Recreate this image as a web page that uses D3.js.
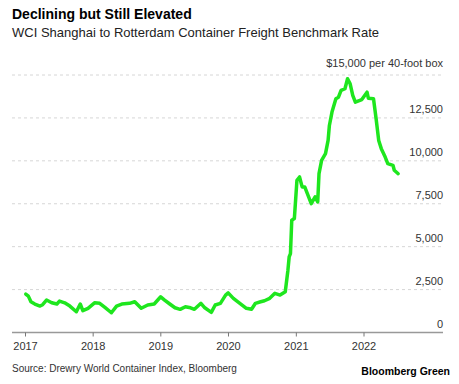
<!DOCTYPE html>
<html>
<head>
<meta charset="utf-8">
<script src="https://cdn.jsdelivr.net/npm/d3@7"></script>
<style>
  body { margin: 0; background: #fff; }
  text { font-family: "Liberation Sans", Arial, sans-serif; }
</style>
</head>
<body>
<div class="chart"></div>
<script>
var width = 459, height = 384;

// weekly WCI readings (sampled), USD per 40-foot box
var dates = [
  '2017-01-05','2017-01-19','2017-02-02','2017-02-23','2017-03-23','2017-04-06','2017-04-27','2017-05-25',
  '2017-06-22','2017-07-06','2017-08-03','2017-08-31','2017-10-05','2017-10-26','2017-11-09','2017-12-07',
  '2018-01-11','2018-02-08','2018-03-08','2018-04-12','2018-05-10','2018-06-07','2018-07-19','2018-08-16',
  '2018-09-20','2018-10-25','2018-11-29','2019-01-03','2019-01-24','2019-02-21','2019-03-21','2019-04-18',
  '2019-05-16','2019-06-13','2019-07-04','2019-08-08','2019-08-29','2019-10-03','2019-10-24','2019-11-21',
  '2019-12-19','2020-01-02','2020-01-30','2020-03-05','2020-04-09','2020-05-07','2020-05-28','2020-06-25',
  '2020-07-16','2020-08-13','2020-09-10','2020-10-08','2020-11-05','2020-11-19','2020-11-26','2020-12-03',
  '2020-12-10','2020-12-24','2021-01-07','2021-01-21','2021-02-04','2021-02-18','2021-03-11','2021-03-25',
  '2021-04-15','2021-04-29','2021-05-06','2021-05-20','2021-06-10','2021-06-24','2021-07-01','2021-07-15',
  '2021-08-05','2021-08-19','2021-09-02','2021-09-23','2021-10-07','2021-10-21','2021-11-04','2021-11-18',
  '2021-12-23','2022-01-20','2022-01-27','2022-02-24','2022-03-10','2022-03-24','2022-04-07','2022-04-28',
  '2022-05-12','2022-06-09','2022-06-16','2022-07-07'
];
var rates = [
  2240, 2120, 1790, 1660, 1540, 1620, 1890, 1730,
  1660, 1830, 1730, 1540, 1210, 1660, 1270, 1410,
  1730, 1700, 1465, 1150, 1540, 1660, 1700, 1790,
  1410, 1600, 1660, 2080, 1890, 1660, 1440, 1350,
  1500, 1440, 1350, 1700, 1440, 1175, 1600, 1700,
  2180, 2310, 1990, 1700, 1410, 1350, 1700, 1790,
  1850, 1990, 2280, 2180, 2370, 3600, 4400, 4600,
  6540, 6640, 8870, 9060, 8480, 8480, 7900, 7510,
  7900, 7610, 9250, 10030, 10420, 11190, 12060, 12840,
  13620, 13710, 14100, 14200, 14780, 14490, 13810, 13420,
  13570, 14000, 13650, 13620, 12450, 11190, 10710, 10220,
  9840, 9740, 9450, 9250
];

var yTicks = [0, 2500, 5000, 7500, 10000, 12500, 15000];
var yearTicks = ['2017', '2018', '2019', '2020', '2021', '2022'];

var parse = d3.timeParse('%Y-%m-%d');
var data = dates.map((d, i) => ({date: parse(d), value: rates[i]}));

var left = 12, right = 443;

var xScale = d3.scaleTime()
    .domain([new Date(2017, 0, 1), new Date(2022, 0, 1)])
    .range([25, 363.5]);
var yScale = d3.scaleLinear()
    .domain([0, 15000])
    .range([332.5, 75]);

var svg = d3.select('div.chart').append('svg')
    .attr('width', width)
    .attr('height', height);

svg.append('text')
    .attr('x', left).attr('y', 19)
    .attr('font-size', 14).attr('font-weight', 'bold')
    .attr('fill', '#000')
    .text('Declining but Still Elevated');

svg.append('text')
    .attr('x', left).attr('y', 37)
    .attr('font-size', 13).attr('fill', '#222')
    .text('WCI Shanghai to Rotterdam Container Freight Benchmark Rate');

// gridlines
svg.selectAll('line.grid')
  .data(yTicks.filter(d => d > 0)).enter().append('line')
    .attr('class', 'grid')
    .attr('x1', left).attr('x2', right)
    .attr('y1', d => yScale(d)).attr('y2', d => yScale(d))
    .attr('stroke', '#d6d6d6')
    .attr('stroke-dasharray', '3,3');

// y labels sit just above their line
svg.selectAll('text.ylab')
  .data(yTicks).enter().append('text')
    .attr('class', 'ylab')
    .attr('x', right).attr('y', d => yScale(d) - (d === 15000 ? 8 : 5))
    .attr('text-anchor', 'end')
    .attr('font-size', 11).attr('fill', '#333')
    .text(d => d === 15000 ? '$15,000 per 40-foot box' : d3.format(',')(d));

// x axis
var xAxis = svg.append('g')
    .attr('transform', 'translate(0,' + yScale(0) + ')')
    .call(d3.axisBottom(xScale)
          .tickValues(yearTicks.map(y => new Date(+y, 0, 1)))
          .tickFormat(d3.timeFormat('%Y'))
          .tickSize(4)
          .tickSizeOuter(0));
xAxis.select('.domain').remove();
xAxis.insert('line', ':first-child')
    .attr('x1', left).attr('x2', right)
    .attr('stroke', '#999').attr('stroke-width', 1.5);
xAxis.selectAll('.tick line').attr('stroke', '#777');
xAxis.selectAll('.tick text')
    .attr('font-family', '"Liberation Sans", Arial, sans-serif')
    .attr('font-size', 11).attr('fill', '#333')
    .attr('dy', '0.95em');

var line = d3.line()
    .x(d => xScale(d.date))
    .y(d => yScale(d.value))
    .curve(d3.curveLinear);

svg.append('path')
    .datum(data)
    .attr('fill', 'none')
    .attr('stroke', '#1ee61e')
    .attr('stroke-width', 3.5)
    .attr('stroke-linejoin', 'round')
    .attr('stroke-linecap', 'round')
    .attr('d', line);

svg.append('text')
    .attr('x', left).attr('y', 372)
    .attr('font-size', 10).attr('fill', '#333')
    .text('Source: Drewry World Container Index, Bloomberg');

svg.append('text')
    .attr('x', 450).attr('y', 375)
    .attr('text-anchor', 'end')
    .attr('font-size', 10.5).attr('font-weight', 'bold').attr('fill', '#000')
    .text('Bloomberg Green');
</script>
</body>
</html>
